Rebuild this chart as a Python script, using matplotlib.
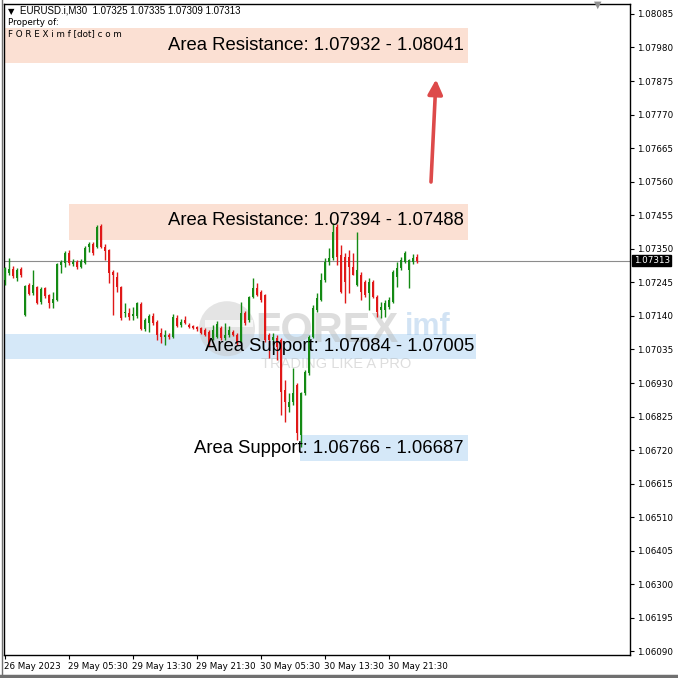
import matplotlib
matplotlib.use("Agg")
import matplotlib.pyplot as plt
import matplotlib.transforms as mtrans
from matplotlib.patches import Rectangle, Ellipse
from matplotlib.transforms import blended_transform_factory

# 30-minute EURUSD bars, 26 May 21:30 -> 31 May 01:00
opens = [1.07252, 1.07274, 1.07287, 1.07259, 1.07287, 1.07143, 1.07237, 1.07212, 1.07231, 1.07183,
         1.07227, 1.07205, 1.07180, 1.07190, 1.07300, 1.07306, 1.07337, 1.07303, 1.07309, 1.07293,
         1.07306, 1.07356, 1.07365, 1.07356, 1.07421, 1.07356, 1.07346, 1.07278, 1.07262, 1.07231,
         1.07149, 1.07149, 1.07140, 1.07140, 1.07177, 1.07099, 1.07118, 1.07140, 1.07121, 1.07086,
         1.07074, 1.07080, 1.07074, 1.07133, 1.07111, 1.07127, 1.07111, 1.07108, 1.07105, 1.07102,
         1.07096, 1.07090, 1.07071, 1.07074, 1.07102, 1.07071, 1.07080, 1.07090, 1.07080, 1.07058,
         1.07149, 1.07127, 1.07199, 1.07227, 1.07215, 1.07205, 1.07080, 1.07065, 1.07071, 1.07065,
         1.06908, 1.06855, 1.06871, 1.06924, 1.06767, 1.06899, 1.06961, 1.07074, 1.07158, 1.07190,
         1.07252, 1.07309, 1.07321, 1.07418, 1.07331, 1.07325, 1.07325, 1.07293, 1.07237, 1.07268,
         1.07246, 1.07212, 1.07246, 1.07199, 1.07158, 1.07158, 1.07168, 1.07183, 1.07262, 1.07290,
         1.07309, 1.07284, 1.07309, 1.07325]
highs = [1.07293, 1.07321, 1.07296, 1.07290, 1.07293, 1.07237, 1.07243, 1.07284, 1.07234, 1.07231,
         1.07231, 1.07209, 1.07215, 1.07306, 1.07315, 1.07343, 1.07346, 1.07318, 1.07315, 1.07318,
         1.07359, 1.07371, 1.07371, 1.07424, 1.07428, 1.07365, 1.07349, 1.07284, 1.07278, 1.07234,
         1.07180, 1.07165, 1.07168, 1.07183, 1.07183, 1.07133, 1.07146, 1.07149, 1.07127, 1.07102,
         1.07096, 1.07086, 1.07146, 1.07143, 1.07130, 1.07140, 1.07118, 1.07111, 1.07108, 1.07105,
         1.07102, 1.07096, 1.07111, 1.07124, 1.07108, 1.07118, 1.07108, 1.07096, 1.07086, 1.07183,
         1.07155, 1.07202, 1.07259, 1.07243, 1.07221, 1.07209, 1.07086, 1.07086, 1.07080, 1.07071,
         1.06939, 1.06899, 1.06977, 1.06930, 1.06902, 1.06971, 1.07080, 1.07174, 1.07212, 1.07274,
         1.07321, 1.07353, 1.07431, 1.07428, 1.07362, 1.07337, 1.07346, 1.07337, 1.07403, 1.07278,
         1.07252, 1.07259, 1.07252, 1.07205, 1.07183, 1.07190, 1.07199, 1.07284, 1.07309, 1.07325,
         1.07343, 1.07318, 1.07334, 1.07334]
lows = [1.07237, 1.07268, 1.07259, 1.07249, 1.07262, 1.07140, 1.07205, 1.07205, 1.07177, 1.07177,
        1.07196, 1.07165, 1.07165, 1.07187, 1.07274, 1.07293, 1.07300, 1.07296, 1.07287, 1.07290,
        1.07303, 1.07340, 1.07331, 1.07353, 1.07353, 1.07315, 1.07243, 1.07143, 1.07215, 1.07127,
        1.07136, 1.07127, 1.07127, 1.07133, 1.07096, 1.07093, 1.07090, 1.07111, 1.07065, 1.07055,
        1.07049, 1.07068, 1.07071, 1.07105, 1.07105, 1.07114, 1.07102, 1.07099, 1.07093, 1.07083,
        1.07077, 1.07046, 1.07065, 1.07071, 1.07065, 1.07065, 1.07074, 1.07077, 1.07049, 1.07055,
        1.07111, 1.07121, 1.07196, 1.07202, 1.07183, 1.07058, 1.07008, 1.07049, 1.07002, 1.06830,
        1.06808, 1.06839, 1.06861, 1.06752, 1.06730, 1.06893, 1.06955, 1.07071, 1.07152, 1.07187,
        1.07246, 1.07300, 1.07315, 1.07300, 1.07212, 1.07180, 1.07212, 1.07268, 1.07234, 1.07190,
        1.07199, 1.07158, 1.07196, 1.07136, 1.07133, 1.07136, 1.07162, 1.07180, 1.07231, 1.07284,
        1.07306, 1.07227, 1.07303, 1.07306]
closes = [1.07290, 1.07287, 1.07265, 1.07284, 1.07268, 1.07234, 1.07209, 1.07237, 1.07180, 1.07224,
          1.07202, 1.07180, 1.07193, 1.07303, 1.07309, 1.07337, 1.07306, 1.07309, 1.07293, 1.07312,
          1.07353, 1.07365, 1.07337, 1.07418, 1.07356, 1.07343, 1.07274, 1.07268, 1.07231, 1.07133,
          1.07152, 1.07136, 1.07146, 1.07180, 1.07099, 1.07127, 1.07140, 1.07118, 1.07080, 1.07074,
          1.07080, 1.07074, 1.07136, 1.07108, 1.07121, 1.07118, 1.07105, 1.07102, 1.07099, 1.07086,
          1.07080, 1.07052, 1.07096, 1.07114, 1.07071, 1.07080, 1.07096, 1.07080, 1.07055, 1.07149,
          1.07118, 1.07199, 1.07227, 1.07205, 1.07190, 1.07065, 1.07065, 1.07074, 1.07043, 1.06902,
          1.06871, 1.06871, 1.06899, 1.06773, 1.06899, 1.06965, 1.07074, 1.07165, 1.07196, 1.07252,
          1.07309, 1.07321, 1.07403, 1.07325, 1.07215, 1.07246, 1.07293, 1.07268, 1.07284, 1.07215,
          1.07205, 1.07246, 1.07199, 1.07152, 1.07168, 1.07180, 1.07190, 1.07278, 1.07290, 1.07315,
          1.07337, 1.07315, 1.07321, 1.07313]

time_ticks = [0, 16, 32, 48, 64, 80, 96]
time_labels = ["26 May 2023", "29 May 05:30", "29 May 13:30", "29 May 21:30",
               "30 May 05:30", "30 May 13:30", "30 May 21:30"]
price_ticks = [1.08085, 1.07980, 1.07875, 1.07770, 1.07665, 1.07560, 1.07455, 1.07350,
               1.07245, 1.07140, 1.07035, 1.06930, 1.06825, 1.06720, 1.06615, 1.06510,
               1.06405, 1.06300, 1.06195, 1.06090]
last_price = 1.07313

# zones as drawn on the chart
zone_names = ["Area Resistance: 1.07932 - 1.08041", "Area Resistance: 1.07394 - 1.07488",
              "Area Support: 1.07084 - 1.07005", "Area Support: 1.06766 - 1.06687"]
zone_low = [1.07932, 1.07378, 1.07005, 1.06687]
zone_high = [1.08041, 1.07490, 1.07084, 1.06766]
zone_start = [-0.25, 16, -0.25, 73.75]
zone_end = [115.75, 115.75, 117.75, 115.75]
zone_color = ["#fbe0d3", "#fbe0d3", "#d5e8f8", "#d5e8f8"]

GREEN = "#148a14"
RED = "#e01818"

fig = plt.figure(figsize=(6.78, 6.78), dpi=100)
ax = fig.add_axes([4 / 678, 23 / 678, 626 / 678, 651 / 678])
ax.set_xlim(-0.25, 156.25)
ax.set_ylim(1.06079, 1.08116)

# zones
for lo, hi, x0, x1, col in zip(zone_low, zone_high, zone_start, zone_end, zone_color):
    ax.add_patch(Rectangle((x0, lo), x1 - x0, hi - lo, facecolor=col, edgecolor="none", zorder=1))

# faint watermark logo
ax.add_patch(Ellipse((55.5, 1.07100), 14, 0.00172, facecolor="#c4c4c4", edgecolor="none",
                     alpha=0.45, zorder=1.5))
ax.add_patch(Rectangle((50, 1.07105), 12, 0.00022, facecolor="white", edgecolor="none",
                       alpha=0.7, zorder=1.6))
ax.text(62.5, 1.07092, "FOREX", fontsize=30, fontweight="bold", color="#b5b5b5", alpha=0.45,
        va="center", ha="left", family="Liberation Sans", zorder=1.5)
ax.text(100, 1.07105, "imf", fontsize=22, fontweight="bold", color="#9cc3e8", alpha=0.45,
        va="center", ha="left", family="Liberation Sans", zorder=1.5)
ax.text(64, 1.06990, "TRADING LIKE A PRO", fontsize=10.5, color="#b5b5b5", alpha=0.45,
        va="center", ha="left", family="Liberation Sans", zorder=1.5)

# current price line
ax.axhline(last_price, color="#8c8c8c", lw=0.8, zorder=2)

# candles
for i, (o, h, l, c) in enumerate(zip(opens, highs, lows, closes)):
    col = GREEN if c >= o else RED
    ax.vlines(i, l, h, color=col, lw=1, zorder=3)
    ax.bar(i, max(abs(c - o), 0.00003), bottom=min(o, c), width=0.72, color=col,
           edgecolor="none", zorder=3)

# zone labels
zone_text_y = [1.07987, 1.07439, 1.07044, 1.06724]
zone_text_x = [114.75, 114.75, 117.25, 114.75]
for name, tx, ty in zip(zone_names, zone_text_x, zone_text_y):
    ax.text(tx, ty, name, fontsize=13.3, ha="right", va="center", color="black",
            family="Liberation Sans", zorder=5)

# arrow
ax.annotate("", xy=(107.75, 1.07880), xytext=(106.5, 1.07559),
            arrowprops=dict(arrowstyle="-|>", color="#dd4a4a", lw=2.6, mutation_scale=22,
                            shrinkA=0, shrinkB=0), zorder=5)

# header texts
ax.text(0.006, 0.996, "\u25bc", transform=ax.transAxes,
        fontsize=6, va="top", ha="left", color="black", family="DejaVu Sans", zorder=6)
ax.text(0.025, 0.997, "EURUSD.i,M30  1.07325 1.07335 1.07309 1.07313", transform=ax.transAxes,
        fontsize=7, va="top", ha="left", color="black", family="Liberation Sans", zorder=6)
ax.text(0.006, 0.979, "Property of:", transform=ax.transAxes,
        fontsize=6.3, va="top", ha="left", color="black", family="DejaVu Sans", zorder=6)
ax.text(0.006, 0.961, "F O R E X i m f [dot] c o m", transform=ax.transAxes,
        fontsize=6.3, va="top", ha="left", color="black", family="DejaVu Sans", zorder=6)

# axes styling
for s in ax.spines.values():
    s.set_color("black")
    s.set_linewidth(1.0)
ax.yaxis.tick_right()
ax.set_yticks(price_ticks)
ax.set_yticklabels([f"{p:.5f}" for p in price_ticks])
ax.tick_params(axis="y", direction="out", length=3, width=0.8, labelsize=6.3, pad=2)
ax.set_xticks(time_ticks)
ax.set_xticklabels(time_labels, ha="left")
ax.tick_params(axis="x", direction="out", length=3, width=0.8, labelsize=6.3, pad=2)
offset = mtrans.ScaledTranslation(-1 / 100, 0, fig.dpi_scale_trans)
for lab in ax.get_xticklabels():
    lab.set_transform(lab.get_transform() + offset)

# last price box on the axis
tr = blended_transform_factory(ax.transAxes, ax.transData)
ax.text(1.006, last_price, "1.07313", transform=tr, fontsize=6.3, color="white",
        va="center", ha="left", family="DejaVu Sans", zorder=7, clip_on=False,
        bbox=dict(boxstyle="square,pad=0.15", facecolor="black", edgecolor="black"))

# small marker top-right and window frame
fig.text(598 / 678, 1 - 5 / 678, "\u25bc", fontsize=7, color="#909090", ha="center", va="center")
fig.add_artist(plt.Line2D([0, 1], [2 / 678, 2 / 678], color="#707070", lw=2.5))
fig.add_artist(plt.Line2D([1.5 / 678, 1.5 / 678], [0, 1], color="#707070", lw=1))

fig.savefig("out.png", dpi=100, facecolor="white")
